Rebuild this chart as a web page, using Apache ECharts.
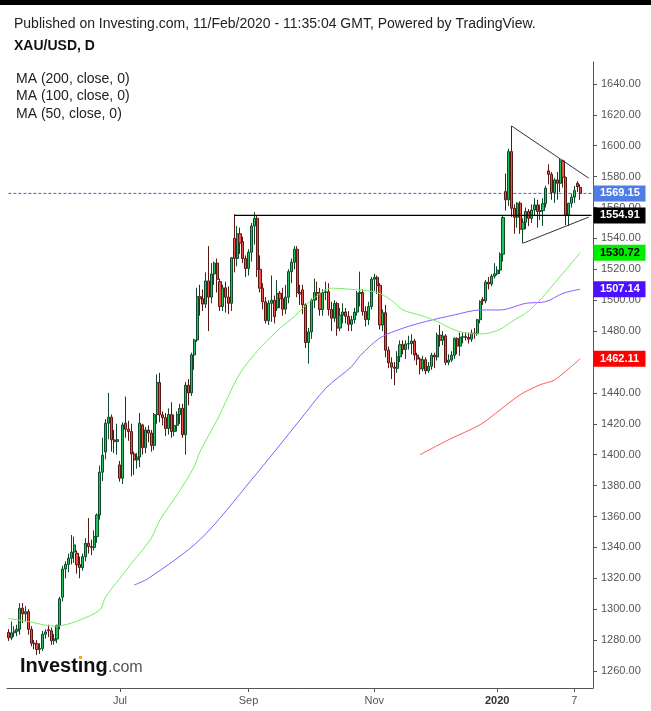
<!DOCTYPE html>
<html><head><meta charset="utf-8">
<script src="https://cdn.jsdelivr.net/npm/echarts/dist/echarts.min.js"></script>
<style>html,body{margin:0;padding:0;background:#fff}#c{width:651px;height:711px}</style>
</head><body><div id="c"></div>
<script>
// ---- data ----
const startDate = '2019-05-07';
const futureSlots = 4;
// [open, close, low, high], one per trading day from startDate
const ohlc = [
[1285,1281.5,1279.5,1287],[1281.5,1284.7,1280,1292],[1284.7,1285.8,1282,1289],[1285.8,1287,1282.5,1290],
[1287,1300.6,1283.5,1303.9],[1300.6,1297,1291,1304],[1297,1298.4,1292,1302],[1298.4,1287,1283.5,1300],[1287,1278,1276,1289],
[1278,1277.6,1274,1280],[1277.6,1274,1270.4,1280],[1274,1274.6,1271,1278],[1274.6,1283.8,1273,1286],[1283.8,1285.3,1281,1287],
[1286.7,1286,1282,1290],[1286,1279.6,1277,1288],[1279.6,1280.7,1277,1284],[1280.7,1289.5,1278,1290],[1289.5,1306.7,1287,1308],
[1307.8,1326,1305,1328],[1326,1329,1320,1331],[1329,1333,1324,1336],[1333,1337,1329,1348],[1337,1341.6,1330,1347],
[1336.2,1328.7,1323,1338],[1329,1327,1320,1334],[1327,1334,1325,1336],[1334,1342.7,1331,1346],[1342.7,1340.5,1336,1359],
[1340.5,1340,1335,1345],[1340,1347,1338,1351],[1347,1361,1343,1362],[1361,1388.7,1358,1393],[1388.7,1399.7,1383,1411],
[1401.8,1420.4,1397,1423],[1420.4,1424.3,1410,1440],[1424.3,1409.6,1402,1426],[1409.6,1408.5,1401,1416],[1408.5,1409.8,1400,1420],
[1393.4,1384.8,1382.6,1396],[1384.8,1419.3,1381,1421],[1420.4,1416.5,1411,1437.6],[1416.5,1415,1409,1422],[1415,1400.5,1386,1420],
[1400.5,1396.6,1387,1402],[1396.6,1398.5,1391,1401],[1398.5,1420.4,1392,1427],[1419.3,1404.6,1400,1420],[1404.6,1416,1401,1418],
[1416,1414,1408,1419],[1414,1406,1402,1416],[1406,1426,1403,1427],[1426,1446.7,1420,1452],[1446.7,1425.8,1421,1453],
[1425.8,1424,1419,1428],[1424,1417,1412,1427],[1417,1426,1413,1430],[1426,1415,1411,1434],[1415,1419,1412,1426],
[1419,1426,1415,1428],[1426,1430,1420,1433],[1430,1413,1411,1433],[1413,1445,1400,1447],[1445,1440,1432,1449],
[1440,1464.6,1438,1466],[1464.6,1474.3,1455,1475],[1474.3,1502.3,1473,1508],[1502.3,1501,1490,1510],[1501,1497.5,1493,1507],
[1497.5,1512.5,1495,1518],[1512.5,1502,1480,1535],[1502,1517,1498,1524],[1517,1524,1510,1525],[1524,1513.5,1505,1527],
[1512,1496,1493,1514],[1496,1508,1493,1510],[1508,1502,1492,1512],[1502,1498,1491,1509],[1498,1527.5,1493,1528],
[1540,1527,1518,1555.5],[1527,1543,1522,1548],[1543,1537,1530,1547],[1538,1527,1524,1541],[1527,1520.5,1515,1529],
[1520.5,1531,1516,1533],[1531,1548,1525,1550],[1548,1553,1536,1557],[1553,1520,1515,1555],[1520,1507.8,1505,1529],
[1507.8,1499,1494,1511],[1499,1486.8,1485,1502],[1486.8,1498,1484,1500],[1498,1500,1486,1516],[1500,1489.4,1485,1503],
[1495,1504.5,1493,1513],[1504.5,1501,1495,1506],[1501,1494.2,1490,1508],[1494.2,1502,1491,1510],[1502,1518.5,1498,1520],
[1518.5,1524.6,1511,1527],[1524.6,1533,1520,1535],[1533,1505,1502,1535],[1505,1504,1497,1510],[1506.7,1497,1491,1510],
[1497,1472.6,1469,1498],[1472.6,1479.5,1459,1482],[1479.5,1500,1475,1501],[1500,1505,1495,1514],[1505,1504.5,1500,1512],
[1504.5,1494,1490,1508],[1494,1505,1490,1507],[1505,1505.5,1500,1512],[1505.5,1494,1490,1511],[1494,1488.4,1480,1499],
[1488.4,1497.9,1486,1500],[1497.9,1482,1477,1499],[1482,1490.3,1480,1495],[1490.3,1492.4,1485,1498],[1492.4,1489.6,1485,1495],
[1489.6,1484.4,1480,1493],[1484.4,1487.4,1480,1490],[1487.4,1492.3,1485,1495],[1492.3,1504.5,1490,1506],[1504.5,1505,1496,1518.5],
[1505,1492.7,1490,1507],[1492.7,1487.5,1483,1496],[1487.5,1495.9,1484,1499],[1495.9,1513.6,1494,1515],[1513.6,1514.8,1506,1517],
[1514.8,1509.6,1504,1516],[1509.6,1484,1481,1511],[1484,1491.9,1480,1494],[1491.9,1467.7,1463,1497],[1467.7,1459.5,1456,1470],
[1459.5,1456.7,1449,1463],[1456.7,1455.9,1445,1460],[1455.9,1463.4,1453,1467],[1463.4,1471.2,1460,1474],[1471.2,1468.1,1465,1474],
[1468.1,1471.7,1462,1474],[1471.7,1471.9,1468,1477],[1471.9,1473.6,1465,1478],[1473.6,1464.5,1461,1475],[1464.5,1461.9,1458,1466],
[1461.9,1455.6,1452,1463],[1455.6,1461.5,1454,1464],[1461.5,1454.3,1452,1463],[1454.3,1457.2,1453,1460],[1457.2,1464.4,1455,1466],
[1464.4,1463.3,1456,1466],[1463.3,1477.4,1461,1479],[1477.4,1474.1,1470,1484],[1474.1,1476.9,1471,1480],[1476.9,1459.8,1458,1478],
[1459.8,1461.3,1458,1465],[1461.3,1464.4,1460,1467],[1464.4,1475.3,1462,1476],[1475.3,1470.3,1465,1476],[1470.3,1476,1464,1479],
[1476,1476.4,1472,1479],[1476.4,1475.9,1474,1479],[1475.9,1474.8,1472,1479],[1474.8,1478.8,1473,1481],[1478.8,1478.4,1475,1482],
[1478.4,1487.4,1477,1488],[1487.4,1499.1,1485,1500],[1500.5,1499.5,1497,1502],[1499.5,1511.7,1498,1513],[1511.7,1510.5,1507,1515],
[1510.5,1515.5,1509,1517],[1515.5,1517.1,1514,1524],[1517.1,1519.5,1516,1522],[1519.5,1529.8,1517,1531],[1529.8,1553.5,1525,1555],
[1570.3,1565,1558,1582],[1565,1596.2,1561,1598],[1596.2,1559.5,1554,1612.8],[1559.5,1553.7,1543,1562],[1553.7,1562.8,1547,1563.5],
[1562.8,1546,1543,1564],[1546,1550.5,1536.9,1553],[1550.5,1557.4,1546,1560],[1557.4,1553,1548,1559],[1553,1558.4,1550,1562],
[1558.4,1561.7,1555,1566],[1561.7,1557.4,1547,1565],[1557.4,1558,1552,1562],[1558,1562.5,1548,1566],[1562.5,1572.5,1560,1574],
[1583.7,1581.5,1575,1588],[1581.5,1569.7,1565,1583],[1569.7,1577.9,1563,1579],[1577.9,1575.7,1565,1583],[1575.7,1590.2,1570,1591.5],
[1590.2,1579.6,1573,1591],[1579.6,1555.2,1548.7,1580],[1555.2,1562.8,1548,1563],[1562.8,1566.7,1560,1569],[1566.7,1571,1563,1574],
[1575.7,1573.5,1570,1577],[1573,1569.15,1565,1575]
];
// moving averages: [trading-day index, value]
const ma50 = [[0,1294],[7,1292],[16,1289],[19,1289.5],[25,1293],[32,1299.6],[34,1308],[39,1320],[44,1332],[46,1336.3],[50,1346],
[53,1357.8],[59,1374],[65,1392.3],[67,1402],[73,1422.5],[81,1452.7],[88,1469],[95,1481.9],[100,1489.4],[106,1500],[113,1507.8],
[122,1506.7],[129,1505],[134,1500],[138,1493.7],[145,1489.8],[150,1486.2],[156,1480.8],[161,1478.5],[166,1478.2],[172,1481.2],
[177,1487.3],[181,1491.6],[186,1500.2],[193,1515.3],[200,1530.72]];
const ma100 = [[44,1315.7],[49,1320],[67,1345],[85,1383.7],[102,1422.5],[111,1443],[120,1457],[123,1464],[130,1475.6],[138,1481.9],
[146,1486.2],[156,1490.5],[165,1493.7],[172,1493.7],[181,1498],[188,1499.1],[194,1504.5],[200,1507.14]];
const ma200 = [[144,1400],[154,1409.7],[165,1419.4],[172,1429],[179,1438.8],[186,1445.3],[191,1448.4],[200,1462.11]];
const lastPrice = 1569.15;
const resistance = {fromIdx: 79, value: 1554.91};
const triUpper = [[176,1612.8],[203,1579]];
const triLower = [[180,1536.9],[203,1553.8]];
const tags = [
  {value:1569.15, bg:'#4f7de6', color:'#fff'},
  {value:1554.91, bg:'#000000', color:'#fff'},
  {value:1530.72, bg:'#00ee00', color:'#000'},
  {value:1507.14, bg:'#4a10ff', color:'#fff'},
  {value:1462.11, bg:'#ff0000', color:'#fff'}
];
const xTickLabels = {'2019-07-01':'Jul','2019-09-02':'Sep','2019-11-01':'Nov','2020-01-01':'2020','2020-02-07':'7'};
const maLegend = ['MA (200, close, 0)','MA (100, close, 0)','MA (50, close, 0)'];

// ---- build ----
function weekdays(start, n){
  const out=[]; const d=new Date(start+'T00:00:00Z');
  while(out.length<n){ const w=d.getUTCDay(); if(w!==0&&w!==6) out.push(d.toISOString().slice(0,10)); d.setUTCDate(d.getUTCDate()+1); }
  return out;
}
const dates = weekdays(startDate, ohlc.length + futureSlots);
const last = dates.length-1;
const FONT = '"Liberation Sans", Arial, sans-serif';
const chart = echarts.init(document.getElementById('c'), null, {renderer:'canvas'});
const tickShow = (i, v) => xTickLabels[v] !== undefined;

function seg(name, pts, style, z){
  return {type:'line', name, data:pts, z:z||4, silent:true, showSymbol:false, symbol:'none',
    lineStyle:style, itemStyle:{color:style.color}, emphasis:{disabled:true}};
}

chart.setOption({
  animation:false,
  backgroundColor:'#fff',
  grid:{left:7, right:58, top:62, bottom:23},
  xAxis:{
    type:'category', data:dates, boundaryGap:true,
    axisLine:{lineStyle:{color:'#555', width:1}},
    axisTick:{show:true, alignWithLabel:true, interval:tickShow, length:4, lineStyle:{color:'#555'}},
    axisLabel:{interval:tickShow, color:'#555', fontSize:11, fontFamily:FONT, margin:7,
      formatter:v => xTickLabels[v]==='2020' ? '{b|2020}' : (xTickLabels[v]||''),
      rich:{b:{fontWeight:'bold', color:'#333', fontSize:11, fontFamily:FONT}}},
    splitLine:{show:false}
  },
  yAxis:{
    type:'value', position:'right', min:1249, max:1654.2, scale:true,
    splitNumber:20, minInterval:20, maxInterval:20,
    axisLine:{show:true, lineStyle:{color:'#555', width:1}},
    axisTick:{show:true, length:4, lineStyle:{color:'#555'}},
    axisLabel:{color:'#555', fontSize:11, fontFamily:FONT, margin:8, showMinLabel:false, showMaxLabel:false,
      formatter:v => v.toFixed(2)},
    splitLine:{show:false}
  },
  series:[
    {type:'line', name:'MA200', data:ma200, showSymbol:false, smooth:0.3, z:3,
      lineStyle:{color:'#ff5a5a', width:1}, silent:true},
    {type:'line', name:'MA100', data:ma100, showSymbol:false, smooth:0.3, z:3,
      lineStyle:{color:'#8a5cff', width:1}, silent:true},
    {type:'line', name:'MA50', data:ma50, showSymbol:false, smooth:0.3, z:3,
      lineStyle:{color:'#77ee66', width:1}, silent:true},
    {type:'candlestick', data:ohlc, barWidth:2.6, z:2,
      itemStyle:{color:'#1ec25f', borderColor:'#0d4a2a', color0:'#f0503f', borderColor0:'#5a1714', borderWidth:1}},
    seg('last', [[0,lastPrice],[last,lastPrice]], {color:'#2f62f5', type:[3,2], width:1}, 1),
    seg('res', [[resistance.fromIdx,resistance.value],[last,resistance.value]], {color:'#000', type:'solid', width:1.2}),
    seg('up', triUpper, {color:'#333', type:'solid', width:1}),
    seg('lo', triLower, {color:'#333', type:'solid', width:1})
  ]
});

const g = [
  {type:'rect', shape:{x:0,y:0,width:651,height:5}, style:{fill:'#000'}},
  {type:'text', x:14, y:24, style:{text:'Published on Investing.com, 11/Feb/2020 - 11:35:04 GMT, Powered by TradingView.', font:'14px '+FONT, fill:'#222', textVerticalAlign:'middle'}},
  {type:'text', x:14, y:46, style:{text:'XAU/USD, D', font:'bold 14px '+FONT, fill:'#111', textVerticalAlign:'middle'}},
];
maLegend.forEach((t,k)=>g.push({type:'text', x:16, y:79+k*17.5, style:{text:t, font:'14px '+FONT, fill:'#222', textVerticalAlign:'middle'}}));
g.push({type:'text', x:20, y:666, style:{text:'Investing', font:'bold 20px '+FONT, fill:'#111', textVerticalAlign:'middle'}});
g.push({type:'text', x:108, y:668, style:{text:'.com', font:'16px '+FONT, fill:'#555', textVerticalAlign:'middle'}});
g.push({type:'rect', shape:{x:79,y:656,width:3,height:3}, style:{fill:'#f5a623'}});
tags.forEach(t=>{
  const y = chart.convertToPixel({yAxisIndex:0}, t.value);
  g.push({type:'rect', z:50, shape:{x:593.5, y:y-8, width:52, height:16}, style:{fill:t.bg}});
  g.push({type:'text', z:51, x:600, y:y, style:{text:t.value.toFixed(2), font:'bold 11px '+FONT, fill:t.color, textVerticalAlign:'middle'}});
});
chart.setOption({graphic:g});
</script></body></html>
